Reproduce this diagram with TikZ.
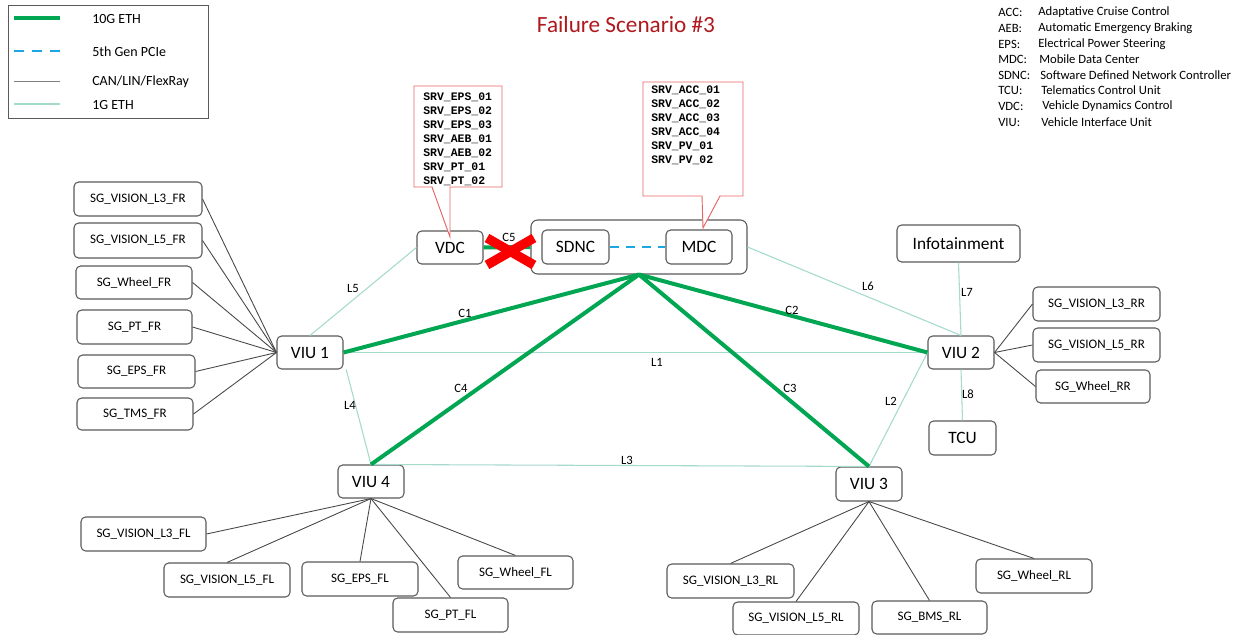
\documentclass[tikz,border=0pt]{standalone}
\usepackage{fontspec}
\setmainfont{Carlito}
\setmonofont{Liberation Mono}
\usetikzlibrary{calc}

\definecolor{eth10}{RGB}{0,166,81}
\definecolor{eth1}{RGB}{165,218,205}
\definecolor{pcieblue}{RGB}{30,165,230}
\definecolor{cangray}{RGB}{70,70,70}
\definecolor{boxgray}{RGB}{90,90,90}
\definecolor{calloutred}{RGB}{232,100,100}
\definecolor{titlered}{RGB}{175,25,30}
\definecolor{failred}{RGB}{250,0,0}

% box by its corners: name, x1, y1, x2, y2, text, style
\newcommand\mkbox[7]{%
  \node[#7, minimum width={(#4-#2)*0.75pt}, minimum height={(#5-#3)*0.75pt}]
    (#1) at ({(#2+#4)/2},{(#3+#5)/2}) {#6};}

\begin{document}
\begin{tikzpicture}[x=0.75pt,y=-0.75pt,
  box/.style={draw=boxgray, line width=0.8pt, rounded corners=3.5pt, fill=white,
              inner sep=1pt, font=\fontsize{9.75}{11}\selectfont},
  bigbox/.style={box, font=\fontsize{13}{15}\selectfont},
  lbl/.style={font=\fontsize{9.5}{11}\selectfont, inner sep=0pt},
  can/.style={draw=cangray, line width=0.65pt},
  gig/.style={draw=eth1, line width=0.8pt},
  tengig/.style={draw=eth10, line width=3pt},
  pcie/.style={draw=pcieblue, line width=2pt, dash pattern=on 7pt off 5pt},
  srv/.style={font=\ttfamily\bfseries\fontsize{8.6}{10.5}\selectfont, align=left, inner sep=0pt},
  callout/.style={draw=calloutred, line width=0.7pt, fill=white},
  legtext/.style={font=\fontsize{10.5}{12}\selectfont, anchor=west, inner sep=0pt},
  abbr/.style={font=\fontsize{9.5}{11}\selectfont, anchor=west, inner sep=0pt},
]
\fill[white] (0,0) rectangle (1246,635);
\useasboundingbox (0,0) rectangle (1246,635);

% ---------- legend ----------
\node[draw=boxgray, line width=0.6pt, minimum width={200*0.75pt}, minimum height={113*0.75pt},
      inner sep=0pt] (legend) at (108,61.5) {};
\coordinate (lg1a) at (14,18);  \coordinate (lg1b) at (60,18);
\coordinate (lg2a) at (14,51);  \coordinate (lg2b) at (60,51);
\coordinate (lg3a) at (14,81);  \coordinate (lg3b) at (60,81);
\coordinate (lg4a) at (14,104); \coordinate (lg4b) at (60,104);
\draw[tengig] (lg1a) -- (lg1b);
\draw[pcie, dash pattern=on 7.5pt off 6pt] (lg2a) -- (lg2b);
\draw[can, draw=gray] (lg3a) -- (lg3b);
\draw[gig] (lg4a) -- (lg4b);
\node[legtext] (lgt1) at (92,19)  {10G ETH};
\node[legtext] (lgt2) at (92,52)  {5th Gen PCIe};
\node[legtext] (lgt3) at (92,82)  {CAN/LIN/FlexRay};
\node[legtext] (lgt4) at (92,105) {1G ETH};

% ---------- title ----------
\node[font=\fontsize{17.4}{20}\selectfont, text=titlered, inner sep=0pt] (title) at (626,25) {Failure Scenario \#3};

% ---------- abbreviations ----------
\node[abbr] (ab1) at (998,12)  {ACC:};  \node[abbr] (ad1) at (1038,12)  {Adaptative Cruise Control};
\node[abbr] (ab2) at (998,28)  {AEB:};  \node[abbr] (ad2) at (1038,28)  {Automatic Emergency Braking};
\node[abbr] (ab3) at (998,44)  {EPS:};  \node[abbr] (ad3) at (1038,44)  {Electrical Power Steering};
\node[abbr] (ab4) at (998,59)  {MDC:};  \node[abbr] (ad4) at (1039,59)  {Mobile Data Center};
\node[abbr] (ab5) at (998,75)  {SDNC:}; \node[abbr] (ad5) at (1040,75)  {Software Defined Network Controller};
\node[abbr] (ab6) at (998,90)  {TCU:};  \node[abbr] (ad6) at (1041,90)  {Telematics Control Unit};
\node[abbr] (ab7) at (998,106) {VDC:};  \node[abbr] (ad7) at (1042,106) {Vehicle Dynamics Control};
\node[abbr] (ab8) at (998,122) {VIU:};  \node[abbr] (ad8) at (1041,122) {Vehicle Interface Unit};

% ---------- central units ----------
\mkbox{sys}{531}{220}{747}{274}{}{box, rounded corners=5pt}
\mkbox{vdc}{417}{231}{483}{264}{VDC}{bigbox}
\mkbox{sdnc}{542}{230}{609}{264}{SDNC}{bigbox}
\mkbox{mdc}{666}{230}{732}{264}{MDC}{bigbox}

\mkbox{viu1}{277}{336}{343}{369}{VIU 1}{bigbox}
\mkbox{viu2}{928}{336}{994}{369}{VIU 2}{bigbox}
\mkbox{viu3}{836}{467}{902}{501}{VIU 3}{bigbox}
\mkbox{viu4}{338}{465}{404}{498}{VIU 4}{bigbox}
\mkbox{info}{897}{225}{1020}{262}{Infotainment}{bigbox}
\mkbox{tcu}{929}{421}{996}{455}{TCU}{bigbox}

% ---------- front-right signal groups ----------
\mkbox{fr1}{74}{182}{202}{216}{SG\_VISION\_L3\_FR}{box}
\mkbox{fr2}{74}{223}{202}{258}{SG\_VISION\_L5\_FR}{box}
\mkbox{fr3}{76}{266}{192}{299}{SG\_Wheel\_FR}{box}
\mkbox{fr4}{77}{310}{192}{344}{SG\_PT\_FR}{box}
\mkbox{fr5}{78}{355}{195}{388}{SG\_EPS\_FR}{box}
\mkbox{fr6}{77}{398}{193}{430}{SG\_TMS\_FR}{box}

% ---------- rear-right signal groups ----------
\mkbox{rr1}{1033}{287}{1160}{321}{SG\_VISION\_L3\_RR}{box}
\mkbox{rr2}{1033}{328}{1160}{362}{SG\_VISION\_L5\_RR}{box}
\mkbox{rr3}{1036}{370}{1150}{403}{SG\_Wheel\_RR}{box}

% ---------- front-left signal groups ----------
\mkbox{fl1}{81}{517}{206}{551}{SG\_VISION\_L3\_FL}{box}
\mkbox{fl2}{164}{563}{290}{597}{SG\_VISION\_L5\_FL}{box}
\mkbox{fl3}{302}{562}{418}{596}{SG\_EPS\_FL}{box}
\mkbox{fl4}{393}{598}{508}{632}{SG\_PT\_FL}{box}
\mkbox{fl5}{458}{556}{573}{589}{SG\_Wheel\_FL}{box}

% ---------- rear-left signal groups ----------
\mkbox{rl1}{667}{564}{794}{598}{SG\_VISION\_L3\_RL}{box}
\mkbox{rl2}{733}{602}{859}{635}{SG\_VISION\_L5\_RL}{box}
\mkbox{rl3}{872}{601}{987}{634}{SG\_BMS\_RL}{box}
\mkbox{rl4}{976}{559}{1092}{593}{SG\_Wheel\_RL}{box}

% ---------- 1G Ethernet links ----------
\draw[gig] (viu1.east) -- (viu2.west);
\draw[gig] (viu1.north) -- (vdc.west);
\draw[gig] ([xshift=2pt]viu1.south east) -- (viu4.north);
\draw[gig] (viu4.north) -- (viu3.north);
\draw[gig] (viu2.west) -- (viu3.north);
\draw[gig] (sys.east) -- (viu2.north);
\draw[gig] (info.south) -- (viu2.north);
\draw[gig] (viu2.south) -- (tcu.north);

% ---------- CAN / LIN / FlexRay ----------
\foreach \n in {fr1,fr2,fr3,fr4,fr5,fr6} \draw[can] (\n.east) -- (viu1.west);
\foreach \n in {rr1,rr2,rr3} \draw[can] (viu2.east) -- (\n.west);
\draw[can] (viu4.south) -- (fl1.east);
\foreach \n in {fl2,fl3,fl4,fl5} \draw[can] (viu4.south) -- (\n.north);
\foreach \n in {rl1,rl2,rl3,rl4} \draw[can] (viu3.south) -- (\n.north);

% ---------- 10G Ethernet links ----------
\draw[tengig] (sys.south) -- (viu1.east);
\draw[tengig] (sys.south) -- (viu2.west);
\draw[tengig] (sys.south) -- (viu3.north);
\draw[tengig] (sys.south) -- (viu4.north);
\draw[tengig] (vdc.east) -- (sys.west);

% ---------- PCIe ----------
\draw[pcie] (sdnc.east) -- (mdc.west);

% ---------- link labels ----------
\node[lbl] (lC1) at (465,313) {C1};
\node[lbl] (lC2) at (792,310) {C2};
\node[lbl] (lC3) at (790,388) {C3};
\node[lbl] (lC4) at (461,388) {C4};
\node[lbl] (lC5) at (509,237) {C5};
\node[lbl] (lL1) at (657,362) {L1};
\node[lbl] (lL2) at (891,401) {L2};
\node[lbl] (lL3) at (627,460) {L3};
\node[lbl] (lL4) at (350,405) {L4};
\node[lbl] (lL5) at (353,288) {L5};
\node[lbl] (lL6) at (868,286) {L6};
\node[lbl] (lL7) at (967,292) {L7};
\node[lbl] (lL8) at (968,394) {L8};

% ---------- service callouts ----------
\draw[callout] (414,86) -- (502,86) -- (502,187) -- (450,187) -- (450,237)
  -- (432,187) -- (414,187) -- cycle;
\node[srv, anchor=north west] (srvvdc) at (423,93)
  {SRV\_EPS\_01\\SRV\_EPS\_02\\SRV\_EPS\_03\\SRV\_AEB\_01\\SRV\_AEB\_02\\SRV\_PT\_01\\SRV\_PT\_02};

\draw[callout] (643,82) -- (743,82) -- (743,196) -- (720,196) -- (703,228)
  -- (702,196) -- (643,196) -- cycle;
\node[srv, anchor=north west] (srvmdc) at (651,86)
  {SRV\_ACC\_01\\SRV\_ACC\_02\\SRV\_ACC\_03\\SRV\_ACC\_04\\SRV\_PV\_01\\SRV\_PV\_02};

% ---------- failed link C5 ----------
\coordinate (xa) at (487,238); \coordinate (xb) at (534,265);
\coordinate (xc) at (487,265); \coordinate (xd) at (534,238);
\draw[failred, line width=7pt] (xa) -- (xb);
\draw[failred, line width=7pt] (xc) -- (xd);
\end{tikzpicture}
\end{document}
